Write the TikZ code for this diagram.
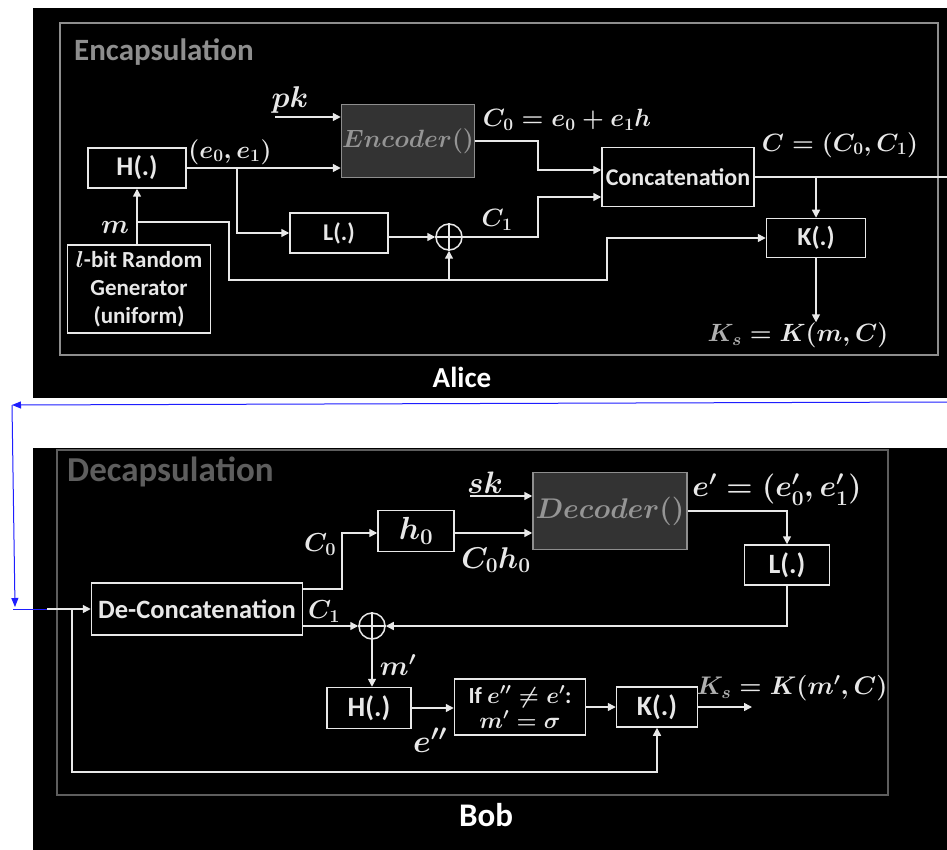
\RequirePackage{fix-cm}
\documentclass[tikz,border=0pt]{standalone}
\usepackage[no-math]{fontspec}
\setmainfont{Carlito}
\usepackage{amsmath,amssymb}
\usetikzlibrary{arrows.meta}
\definecolor{wirecol}{HTML}{E8E8E8}
\definecolor{encframe}{HTML}{8E8E8E}
\definecolor{decframe}{HTML}{5E5E5E}
\definecolor{codebox}{HTML}{333333}
\definecolor{codetext}{HTML}{959595}
\definecolor{kscol}{HTML}{B0B0B0}
\definecolor{noteblue}{HTML}{1E1EFF}
\begin{document}
\begin{tikzpicture}[x=1pt,y=-1pt,
                    blk/.style={draw=wirecol,line width=1.5pt,text=wirecol,inner sep=0pt,align=center,font=\fontsize{24}{26}\selectfont\bfseries},
                    big/.style={font=\fontsize{28}{30}\selectfont\bfseries},
                    code/.style={draw=encframe,line width=1.5pt,fill=codebox,text=codetext,inner sep=0pt,font=\fontsize{25}{28}\selectfont\boldmath},
                    wire/.style={draw=wirecol,line width=1.5pt,-{Triangle[length=8pt,width=8pt]}},
                    plain/.style={draw=wirecol,line width=1.5pt},
                    xorc/.style={circle,draw=wirecol,line width=1.5pt,minimum size=26pt,inner sep=0pt},
                    lbl/.style={text=wirecol,inner sep=0pt,font=\fontsize{25}{28}\selectfont\boldmath},
                    lblb/.style={lbl,font=\fontsize{30}{32}\selectfont\boldmath},
                    head/.style={inner sep=0pt,anchor=west,font=\fontsize{31}{33}\selectfont\bfseries},
                    party/.style={text=white,inner sep=0pt,font=\fontsize{29}{31}\selectfont\bfseries},
                    bluewire/.style={draw=noteblue,line width=1pt}]
                    \useasboundingbox (0,0) rectangle (947,850);
                    \fill[white] (0,0) rectangle (947,850);
                    \fill[black] (33,8) rectangle (947,398);
                    \fill[black] (33,448) rectangle (947,850);
                    \draw[encframe,line width=2pt] (60,23) rectangle (938,355);
                    \draw[decframe,line width=2pt] (57,450) rectangle (888,795);
                    \node[head,text=encframe] (encT) at (74,52) {Encapsulation};
                    \node[head,text=decframe,font=\fontsize{35}{37}\selectfont\bfseries] (decT) at (67,472) {Decapsulation};
                    \node[party] (alice) at (462,377) {Alice};
                    \node[party,font=\fontsize{33}{35}\selectfont\bfseries] (bob) at (486,815) {Bob};

                    \node[blk,minimum width=98pt,minimum height=40pt,font=\fontsize{27}{29}\selectfont\bfseries] (hA) at (137,168) {H(.)};
                    \node[blk,minimum width=143pt,minimum height=88pt,font=\fontsize{23}{28}\selectfont\bfseries] (gen) at (139,289) {{\boldmath$l$}-bit Random\\Generator\\(uniform)};
                    \node[code,minimum width=133pt,minimum height=73pt] (enc) at (408,141) {$Encoder()$};
                    \node[blk,minimum width=98pt,minimum height=40pt] (lA) at (339,233) {L(.)};
                    \node[xorc] (xA) at (449,237) {};
                    \node[blk,minimum width=152pt,minimum height=59pt] (cat) at (678,177) {Concatenation};
                    \node[blk,minimum width=99pt,minimum height=39pt,font=\fontsize{26}{28}\selectfont\bfseries] (kA) at (816,238) {K(.)};
                    \node[lbl,font=\fontsize{27}{29}\selectfont\boldmath] (mA) at (115,228) {$m$};
                    \node[lbl,font=\fontsize{30}{32}\selectfont\boldmath] (pkA) at (290,100) {$pk$};
                    \node[lbl] (eA) at (230,152) {$(e_0,e_1)$};
                    \node[lbl] (c0A) at (567,120) {$C_0=e_0+e_1h$};
                    \node[lbl] (c1A) at (497,220) {$C_1$};
                    \node[lbl] (cA) at (840,145) {$C=(C_0,C_1)$};
                    \node[lbl] (ksA) at (798,335) {${\color{kscol}K_s}=K(m,C)$};
                    \coordinate (mbr) at (137,222);
                    \coordinate (b1) at (229,280);
                    \coordinate (b2) at (607,280);
                    \coordinate (ebr) at (237,168);
                    \coordinate (pkin) at (275,117);
                    \coordinate (c0b) at (538,170);
                    \coordinate (c1b) at (538,197);
                    \coordinate (cout) at (947,177);
                    \draw[wire] (gen.north -| hA.south) -- (hA.south);
                    \draw[wire] (mbr) -| (b1) -- (b2) |- (kA.west);
                    \draw[wire] (xA.south |- b1) -- (xA.south);
                    \draw[wire] (hA.east) -- (hA.east -| enc.west);
                    \draw[wire] (ebr) |- (lA.west);
                    \draw[wire] (pkin) -- (pkin -| enc.west);
                    \draw[wire] (lA.east |- xA.west) -- (xA.west);
                    \draw[plain] (xA.north) -- (xA.south) (xA.west) -- (xA.east);
                    \draw[wire] (xA.east) -| (c1b) -- (c1b -| cat.west);
                    \draw[wire] (enc.east) -| (c0b) -- (c0b -| cat.west);
                    \draw[plain] (cat.east) -- (cout);
                    \draw[wire] (kA.north |- cout) -- (kA.north);
                    \draw[wire] (kA.south) -- (kA.south |- ksA.north);

                    \coordinate (bR) at (947,402);
                    \coordinate (bL) at (12,405);
                    \coordinate (bD) at (15,607);
                    \coordinate (bE) at (13,609);
                    \coordinate (din) at (47,609);
                    \draw[bluewire,-{Triangle[length=9pt,width=7pt]}] (bR) -- (bL);
                    \draw[bluewire,-{Triangle[length=9pt,width=7pt]}] (bL) -- (bD);
                    \draw[bluewire] (bE) -- (din);

                    \node[blk,minimum width=211pt,minimum height=52pt,font=\fontsize{26.5}{28}\selectfont\bfseries] (dcat) at (197,609) {De-Concatenation};
                    \node[blk,minimum width=76pt,minimum height=41pt,font=\fontsize{32}{34}\selectfont\boldmath] (hB) at (416,531) {$h_0$};
                    \node[code,minimum width=154pt,minimum height=77pt,font=\fontsize{28.5}{30}\selectfont\boldmath] (dec) at (610,511) {$Decoder()$};
                    \node[blk,big,minimum width=85pt,minimum height=40pt] (lB) at (787,565) {L(.)};
                    \node[xorc] (xB) at (372,626) {};
                    \node[blk,big,minimum width=84pt,minimum height=41pt] (hC) at (369,708) {H(.)};
                    \node[blk,minimum width=131pt,minimum height=56pt,font=\fontsize{23}{25}\selectfont\bfseries\boldmath] (ifB) at (520,707) {If $e''\neq e'$:\\$m'=\sigma$};
                    \node[blk,big,minimum width=81pt,minimum height=40pt] (kB) at (657,707) {K(.)};
                    \node[lblb,font=\fontsize{31}{33}\selectfont\boldmath] (skB) at (485,483) {$sk$};
                    \node[lblb,font=\fontsize{26}{28}\selectfont\boldmath] (c0B) at (320,545) {$C_0$};
                    \node[lblb,font=\fontsize{26}{28}\selectfont\boldmath] (c1B) at (324,612) {$C_1$};
                    \node[lblb] (chB) at (496,560) {$C_0h_0$};
                    \node[lblb] (epB) at (777,490) {$e'=(e_0',e_1')$};
                    \node[lblb,font=\fontsize{28}{30}\selectfont\boldmath] (mB) at (398,665) {$m'$};
                    \node[lblb,font=\fontsize{32}{34}\selectfont\boldmath] (eppB) at (430,740) {$e''$};
                    \node[lbl,font=\fontsize{25.5}{28}\selectfont\boldmath] (ksB) at (792,688) {${\color{kscol}K_s}=K(m',C)$};
                    \coordinate (dbr) at (72,609);
                    \coordinate (dlow) at (72,772);
                    \coordinate (c0bend) at (342,533);
                    \coordinate (skin) at (470,496);
                    \coordinate (kout) at (752,707);
                    \draw[wire] (din) -- (dcat.west);
                    \draw[wire] (dbr) -- (dlow) -| (kB.south);
                    \draw[wire] ([yshift=20pt]dcat.east) -| (c0bend) -- (c0bend -| hB.west);
                    \draw[wire] ([yshift=-17pt]dcat.east) -- (xB.west);
                    \draw[wire] (c0bend -| hB.east) -- (c0bend -| dec.west);
                    \draw[wire] (skin) -- (skin -| dec.west);
                    \draw[wire] (dec.east) -| (lB.north);
                    \draw[wire] (lB.south) |- (xB.east);
                    \draw[plain] (xB.north) -- (xB.south) (xB.west) -- (xB.east);
                    \draw[wire] (xB.south) -- (xB.south |- hC.north);
                    \draw[wire] (hC.east) -- (ifB.west |- hC.east);
                    \draw[wire] (ifB.east) -- (kB.west);
                    \draw[wire] (kB.east) -- (kout);
                \end{tikzpicture}
\end{document}
